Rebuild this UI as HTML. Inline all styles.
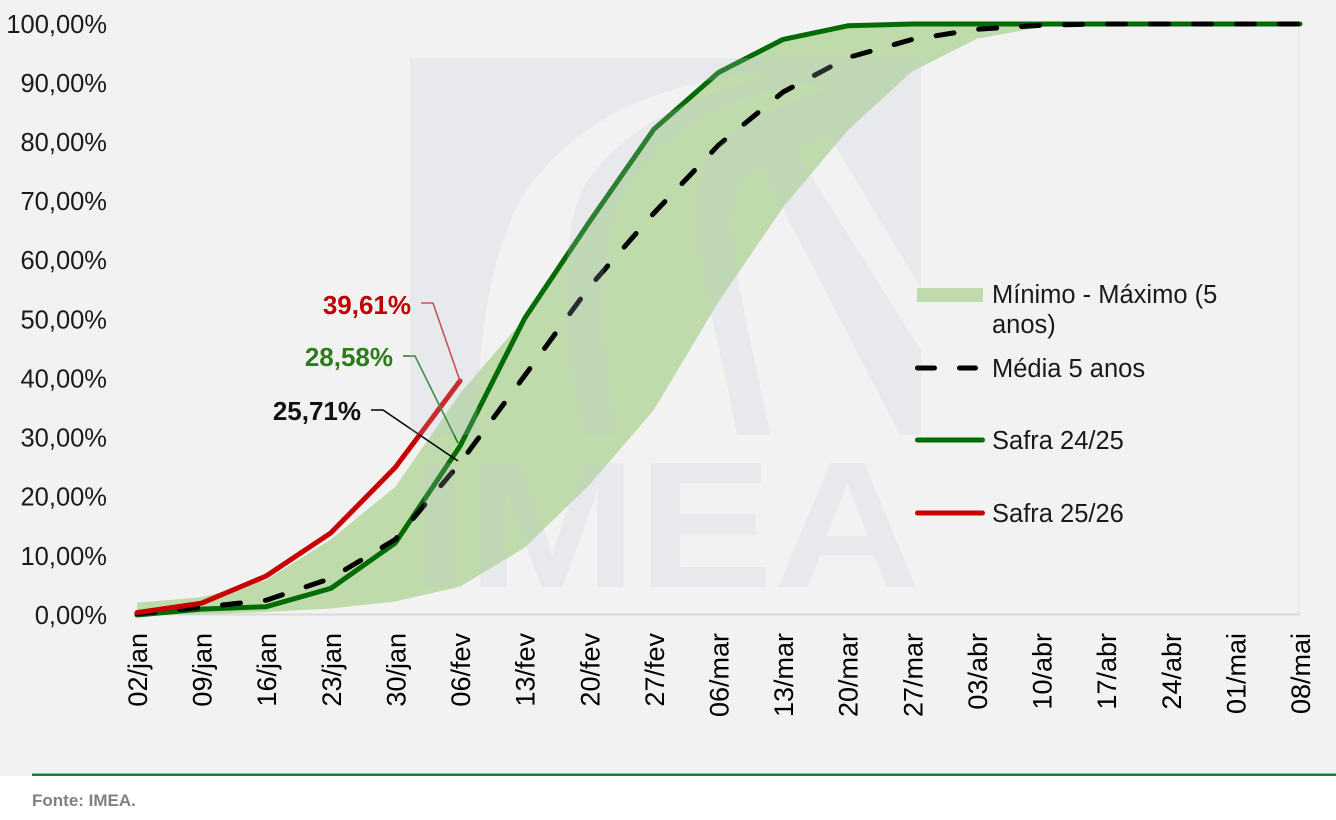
<!DOCTYPE html>
<html><head><meta charset="utf-8">
<style>
html,body{margin:0;padding:0;background:#fff;}
svg{display:block;}
text{font-family:"Liberation Sans",Arial,sans-serif;}
</style></head>
<body>
<svg width="1336" height="820" viewBox="0 0 1336 820" xmlns="http://www.w3.org/2000/svg">
<defs>
<mask id="wm">
  <rect x="0" y="0" width="1336" height="820" fill="#fff"/>
  <path d="M477,435 C478,330 492,240 530,185 C580,120 650,88 745,74 L770,76 C690,95 620,130 585,185 C560,230 560,330 583,435 Z" fill="#000"/>
  <path d="M617,435 C597,330 597,240 625,190 C660,135 720,100 800,82 L830,88 C760,110 705,140 697,190 C690,250 720,340 737,435 Z" fill="#000"/>
  <path d="M770,435 C752,340 728,260 733,205 C736,188 745,175 760,165 L900,435 Z" fill="#000"/>
  <path d="M795,150 L828,134 L922,290 L922,352 Z" fill="#000"/>
</mask>
</defs>

<!-- backgrounds -->
<rect x="0" y="0" width="1336" height="776" fill="#f2f2f2"/>
<rect x="32" y="773.5" width="1304" height="2.5" fill="#17793d"/>
<text x="32" y="806" font-size="17" font-weight="bold" fill="#808080">Fonte: IMEA.</text>

<!-- plot frame -->
<line x1="1298.5" y1="24" x2="1298.5" y2="615" stroke="#e4e4dc" stroke-width="1"/>
<line x1="137" y1="614.5" x2="1300" y2="614.5" stroke="#d9d9d9" stroke-width="2"/>

<!-- Y axis labels -->
<g font-size="25.5" fill="#1a1a1a" text-anchor="end">
<text x="107" y="33">100,00%</text>
<text x="107" y="92">90,00%</text>
<text x="107" y="151">80,00%</text>
<text x="107" y="210">70,00%</text>
<text x="107" y="269">60,00%</text>
<text x="107" y="328.5">50,00%</text>
<text x="107" y="387.5">40,00%</text>
<text x="107" y="446.5">30,00%</text>
<text x="107" y="505.5">20,00%</text>
<text x="107" y="565">10,00%</text>
<text x="107" y="624">0,00%</text>
</g>

<!-- X axis labels -->
<g font-size="27" fill="#000" text-anchor="end">
<text transform="translate(147,633) rotate(-90)">02/jan</text>
<text transform="translate(211.6,633) rotate(-90)">09/jan</text>
<text transform="translate(276.2,633) rotate(-90)">16/jan</text>
<text transform="translate(340.8,633) rotate(-90)">23/jan</text>
<text transform="translate(405.4,633) rotate(-90)">30/jan</text>
<text transform="translate(470,633) rotate(-90)">06/fev</text>
<text transform="translate(534.7,633) rotate(-90)">13/fev</text>
<text transform="translate(599.3,633) rotate(-90)">20/fev</text>
<text transform="translate(663.9,633) rotate(-90)">27/fev</text>
<text transform="translate(728.5,633) rotate(-90)">06/mar</text>
<text transform="translate(793.1,633) rotate(-90)">13/mar</text>
<text transform="translate(857.7,633) rotate(-90)">20/mar</text>
<text transform="translate(922.3,633) rotate(-90)">27/mar</text>
<text transform="translate(986.9,633) rotate(-90)">03/abr</text>
<text transform="translate(1051.5,633) rotate(-90)">10/abr</text>
<text transform="translate(1116.1,633) rotate(-90)">17/abr</text>
<text transform="translate(1180.8,633) rotate(-90)">24/abr</text>
<text transform="translate(1245.4,633) rotate(-90)">01/mai</text>
<text transform="translate(1310,633) rotate(-90)">08/mai</text>
</g>

<!-- Min-Max band -->
<polygon fill="#bfdbab" points="
137,602.6 201.6,597.3 266.2,580.1 330.8,539.4 395.4,486.8 460,393.4 524.7,318.3 589.3,222 653.9,129.2 718.5,72.5 783.1,39.4 847.7,25.8 912.3,24 976.9,24 1041.5,24 1106.1,24 1170.8,24 1235.4,24 1300,24
1300,24 1235.4,24 1170.8,24 1106.1,24 1041.5,26.96 976.9,38.8 912.3,71.3 847.7,130.4 783.1,207.2 718.5,301.8 653.9,409.9 589.3,485 524.7,547.6 460,586.6 395.4,601.4 330.8,608.5 266.2,612 201.6,614.4 137,615"/>

<!-- Safra 24/25 -->
<polyline fill="none" stroke="#036b03" stroke-width="5" stroke-linejoin="round" stroke-linecap="round" points="
137,615 201.6,609.1 266.2,606.7 330.8,588.4 395.4,542.9 460,446.1 524.7,318.3 589.3,222 653.9,129.2 718.5,72.5 783.1,39.4 847.7,25.8 912.3,24 976.9,24 1041.5,24 1106.1,24 1170.8,24 1235.4,24 1300,24"/>

<!-- Média 5 anos -->
<polyline fill="none" stroke="#000" stroke-width="5" stroke-linejoin="round" stroke-linecap="round" stroke-dasharray="18 25" points="
137,613.8 201.6,607.3 266.2,600.2 330.8,578.4 395.4,539.4 460,463.1 524.7,375.6 589.3,287 653.9,213.1 718.5,145.2 783.1,92 847.7,57.7 912.3,39.4 976.9,29.3 1041.5,25.2 1106.1,24 1170.8,24 1235.4,24 1300,24"/>

<!-- Safra 25/26 -->
<polyline fill="none" stroke="#c80000" stroke-width="5" stroke-linejoin="round" stroke-linecap="round" points="
137,612.6 201.6,603.2 266.2,576 330.8,532.9 395.4,467.3 460,380.9"/>

<!-- annotation leaders -->
<polyline fill="none" stroke="#c83232" stroke-width="1.6" points="421,303 433,303 460,381"/>
<polyline fill="none" stroke="#1f7a1f" stroke-width="1.6" points="403,356 415,356 458,443"/>
<polyline fill="none" stroke="#000" stroke-width="1.6" points="371,410 383,410 458,461"/>

<!-- watermark overlay -->
<g fill="rgb(200,204,218)" opacity="0.21">
  <rect x="410" y="58" width="511" height="377" mask="url(#wm)"/>
  <text x="410" y="587" font-size="180" font-weight="bold" textLength="511" lengthAdjust="spacingAndGlyphs">IMEA</text>
</g>

<!-- annotation labels -->
<g font-size="26" font-weight="bold" text-anchor="end">
<text x="411" y="314" fill="#c00000">39,61%</text>
<text x="393" y="366" fill="#2e7b1b">28,58%</text>
<text x="361" y="420" fill="#111">25,71%</text>
</g>

<!-- Legend -->
<rect x="917" y="288" width="66" height="14" fill="#bfdbab"/>
<line x1="917.5" y1="368" x2="934.5" y2="368" stroke="#000" stroke-width="5" stroke-linecap="round"/>
<line x1="959.5" y1="368" x2="975.5" y2="368" stroke="#000" stroke-width="5" stroke-linecap="round"/>
<line x1="917.5" y1="440" x2="982.5" y2="440" stroke="#036b03" stroke-width="5" stroke-linecap="round"/>
<line x1="917.5" y1="513" x2="982.5" y2="513" stroke="#c80000" stroke-width="5" stroke-linecap="round"/>
<g font-size="25.5" fill="#1a1a1a">
<text x="992" y="303">Mínimo - Máximo (5</text>
<text x="992" y="333">anos)</text>
<text x="992" y="377">Média 5 anos</text>
<text x="992" y="449">Safra 24/25</text>
<text x="992" y="522">Safra 25/26</text>
</g>
</svg>
</body></html>
